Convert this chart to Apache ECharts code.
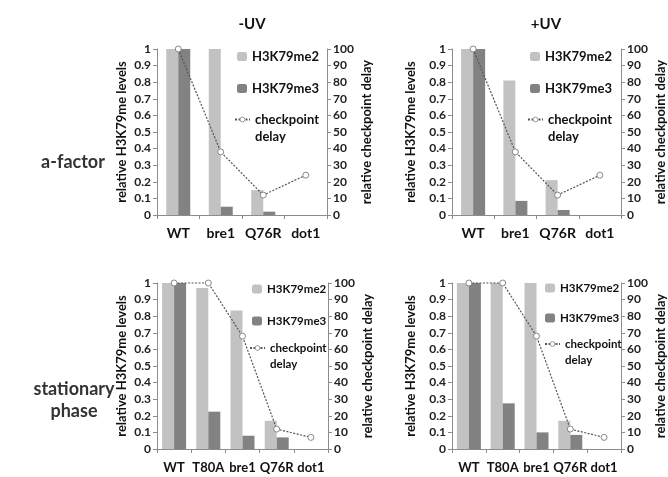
<!DOCTYPE html>
<html><head><meta charset="utf-8">
<script src="https://cdn.jsdelivr.net/npm/echarts@6/dist/echarts.min.js"></script>
<style>html,body{margin:0;padding:0;background:#fff}#c{width:668px;height:477px}</style>
</head><body><div id="c"></div>
<script>
// categories
const catsTop = ['WT', 'bre1', 'Q76R', 'dot1'];
const catsBottom = ['WT', 'T80A', 'bre1', 'Q76R', 'dot1'];
// a-factor, -UV
const me2AfactorMinusUV = [1, 1, 0.15, 0];
const me3AfactorMinusUV = [1, 0.05, 0.02, 0];
const delayAfactorMinusUV = [100, 38, 12, 24];
// a-factor, +UV
const me2AfactorPlusUV = [1, 0.81, 0.21, 0];
const me3AfactorPlusUV = [1, 0.085, 0.03, 0];
const delayAfactorPlusUV = [100, 38, 12, 24];
// stationary phase, -UV
const me2StatMinusUV = [1, 0.97, 0.835, 0.17, 0];
const me3StatMinusUV = [1, 0.225, 0.08, 0.07, 0];
const delayStatMinusUV = [100, 100, 68, 12, 7];
// stationary phase, +UV
const me2StatPlusUV = [1, 1, 1, 0.17, 0];
const me3StatPlusUV = [1, 0.275, 0.1, 0.085, 0];
const delayStatPlusUV = [100, 100, 68, 12, 7];

const colTitles = ['-UV', '+UV'];
const rowTitles = ['a-factor', 'stationary\nphase'];
const leftAxisName = 'relative H3K79me levels';
const rightAxisName = 'relative checkpoint delay';
const seriesNames = ['H3K79me2', 'H3K79me3', 'checkpoint delay'];

const FONT = 'Lato';
const panels = [
  {cats: catsTop, me2: me2AfactorMinusUV, me3: me3AfactorMinusUV, delay: delayAfactorMinusUV,
   grid: {left: 157, top: 49, width: 170, height: 166}, leftGap: 29, rightGap: 33,
   lg1: {left: 237, top: 50}, lg2: {left: 234, top: 94}, labelMargin: 11, catFont: 14,
   legFont: 13, legGap: 19, legLH: 17},
  {cats: catsTop, me2: me2AfactorPlusUV, me3: me3AfactorPlusUV, delay: delayAfactorPlusUV,
   grid: {left: 452, top: 49, width: 170, height: 166}, leftGap: 35, rightGap: 33,
   lg1: {left: 530, top: 50}, lg2: {left: 527, top: 94}, labelMargin: 11, catFont: 14,
   legFont: 13, legGap: 19, legLH: 17},
  {cats: catsBottom, me2: me2StatMinusUV, me3: me3StatMinusUV, delay: delayStatMinusUV,
   grid: {left: 157, top: 283, width: 171, height: 166}, leftGap: 29, rightGap: 33,
   lg1: {left: 252, top: 283}, lg2: {left: 249, top: 324}, labelMargin: 12, catFont: 13,
   legFont: 11.5, legGap: 20, legLH: 16},
  {cats: catsBottom, me2: me2StatPlusUV, me3: me3StatPlusUV, delay: delayStatPlusUV,
   grid: {left: 452, top: 283, width: 170, height: 166}, leftGap: 35, rightGap: 33,
   lg1: {left: 545, top: 282}, lg2: {left: 544, top: 320}, labelMargin: 12, catFont: 13,
   legFont: 11.5, legGap: 18, legLH: 16}
];

const axisLine = {show: true, lineStyle: {color: '#8c8c8c', width: 1}};
const axisTick = {show: true, length: 4, lineStyle: {color: '#8c8c8c'}};
const tickLabel = {color: '#222', fontWeight: 'bold', fontSize: 12, fontFamily: FONT};
const nameStyle = {color: '#111', fontWeight: 'bold', fontSize: 13, fontFamily: FONT};

const option = {
  animation: false,
  textStyle: {fontFamily: FONT},
  title: [
    {text: colTitles[0], left: 247, top: 12, textAlign: 'center', textStyle: {fontSize: 15, fontWeight: 'bold', color: '#111', fontFamily: FONT}},
    {text: colTitles[1], left: 541, top: 12, textAlign: 'center', textStyle: {fontSize: 15, fontWeight: 'bold', color: '#111', fontFamily: FONT}},
    {text: rowTitles[0], left: 68, top: 148, textAlign: 'center', textStyle: {fontSize: 18, fontWeight: 'bold', color: '#333', fontFamily: FONT}},
    {text: rowTitles[1], left: 69, top: 373, textAlign: 'center', textStyle: {fontSize: 18, fontWeight: 'bold', color: '#333', lineHeight: 22, fontFamily: FONT}}
  ],
  grid: [], xAxis: [], yAxis: [], series: [], legend: []
};

panels.forEach((p, i) => {
  option.grid.push(Object.assign({containLabel: false}, p.grid));
  option.xAxis.push({
    type: 'category', gridIndex: i, data: p.cats,
    axisLine: axisLine, axisTick: Object.assign({alignWithLabel: false}, axisTick),
    axisLabel: {color: '#111', fontWeight: 'bold', fontSize: p.catFont, fontFamily: FONT, margin: p.labelMargin, interval: 0},
    splitLine: {show: false}
  });
  option.yAxis.push({
    type: 'value', gridIndex: i, min: 0, max: 1, interval: 0.1, position: 'left',
    name: leftAxisName, nameLocation: 'middle', nameGap: p.leftGap, nameTextStyle: nameStyle,
    axisLine: axisLine, axisTick: axisTick, axisLabel: Object.assign({margin: 6}, tickLabel),
    splitLine: {show: false}
  });
  option.yAxis.push({
    type: 'value', gridIndex: i, min: 0, max: 100, interval: 10, position: 'right',
    name: rightAxisName, nameLocation: 'middle', nameGap: p.rightGap, nameTextStyle: nameStyle,
    axisLine: axisLine, axisTick: axisTick, axisLabel: Object.assign({margin: 6}, tickLabel),
    splitLine: {show: false}
  });
  option.series.push({
    name: seriesNames[0], type: 'bar', xAxisIndex: i, yAxisIndex: 2 * i, data: p.me2,
    barWidth: 12, barGap: '0%', itemStyle: {color: '#c2c2c2'}
  });
  option.series.push({
    name: seriesNames[1], type: 'bar', xAxisIndex: i, yAxisIndex: 2 * i, data: p.me3,
    barWidth: 12, barGap: '0%', itemStyle: {color: '#828282'}
  });
  option.series.push({
    name: seriesNames[2], type: 'line', xAxisIndex: i, yAxisIndex: 2 * i + 1, data: p.delay,
    symbol: 'circle', symbolSize: 6, clip: false, z: 5,
    lineStyle: {color: '#555', width: 1.2, type: [2, 1.5]},
    itemStyle: {color: '#fff', borderColor: '#888', borderWidth: 1}
  });
  const legText = {color: '#111', fontWeight: 'bold', fontSize: p.legFont, fontFamily: FONT};
  option.legend.push({
    data: [seriesNames[0], seriesNames[1]], orient: 'vertical', left: p.lg1.left, top: p.lg1.top,
    padding: 0, itemWidth: 10, itemHeight: 9, itemGap: p.legGap, selectedMode: false,
    textStyle: legText
  });
  option.legend.push({
    data: [{name: seriesNames[2], itemStyle: {color: '#fff', borderColor: '#999', borderWidth: 1}}],
    orient: 'vertical', left: p.lg2.left, top: p.lg2.top,
    padding: 0, itemWidth: 15, itemHeight: 6, itemGap: 0, selectedMode: false,
    formatter: () => ' \ncheckpoint\ndelay',
    textStyle: Object.assign({lineHeight: p.legLH}, legText)
  });
});

const chart = echarts.init(document.getElementById('c'), null, {renderer: 'canvas'});
chart.setOption(option);
</script></body></html>
